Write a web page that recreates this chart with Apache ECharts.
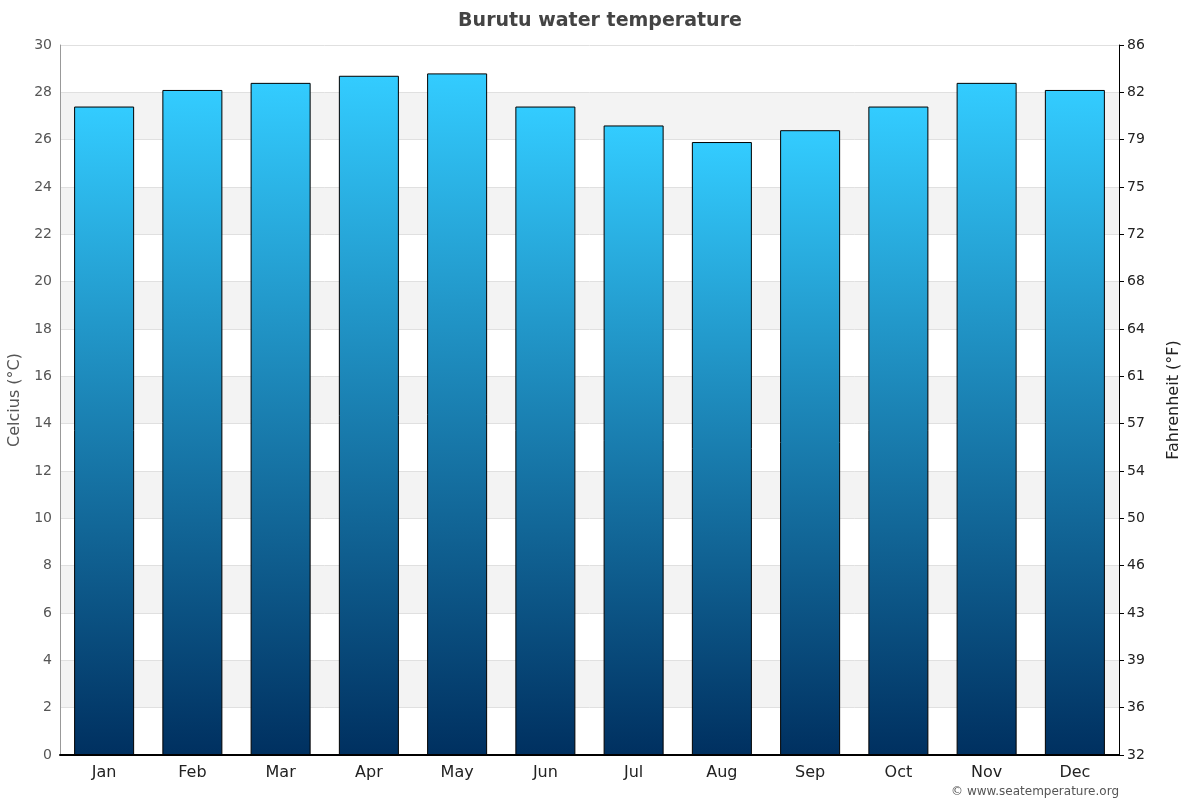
<!DOCTYPE html>
<html><head><meta charset="utf-8">
<script src="https://cdn.jsdelivr.net/npm/echarts@6/dist/echarts.min.js"></script>
<style>html,body{margin:0;padding:0;background:#fff}#c{width:1200px;height:800px}</style>
</head><body><div id="c"></div>
<script>
const months = ['Jan','Feb','Mar','Apr','May','Jun','Jul','Aug','Sep','Oct','Nov','Dec'];
const waterTempC = [27.4, 28.1, 28.4, 28.7, 28.8, 27.4, 26.6, 25.9, 26.4, 27.4, 28.4, 28.1];
const fahrenheitLabels = ['32','36','39','43','46','50','54','57','61','64','68','72','75','79','82','86'];
const titleText = 'Burutu water temperature';
const creditText = '© www.seatemperature.org';

const chart = echarts.init(document.getElementById('c'), null, {renderer:'canvas'});
const font = 'DejaVu Sans';
chart.setOption({
  animation:false,
  backgroundColor:'#fff',
  textStyle:{fontFamily:font},
  title:{text:titleText,left:'center',top:7,textStyle:{fontFamily:font,fontSize:19,fontWeight:'bold',color:'#444'}},
  graphic:[{type:'text',right:81,bottom:2,style:{text:creditText,fontFamily:font,fontSize:12,fill:'#555'}}],
  grid:{left:60,right:81,top:45,bottom:45,containLabel:false,outerBoundsMode:'none'},
  xAxis:{type:'category',data:months,
    axisLine:{lineStyle:{color:'#000',width:2}},
    axisTick:{show:false},
    axisLabel:{fontSize:16,color:'#222',margin:10}},
  yAxis:[
    {type:'value',min:0,max:30,interval:2,name:'Celcius (°C)',nameLocation:'middle',nameGap:35,
     nameTextStyle:{fontSize:16,color:'#555'},
     axisLine:{show:true,lineStyle:{color:'#999'}},
     axisTick:{show:false},
     axisLabel:{fontSize:14,color:'#555',margin:8},
     splitLine:{lineStyle:{color:'#e0e0e0'}},
     splitArea:{show:true,areaStyle:{color:['#ffffff','#f3f3f3']}}},
    {type:'value',min:0,max:30,interval:2,position:'right',name:'Fahrenheit (°F)',nameLocation:'middle',nameGap:47,
     nameTextStyle:{fontSize:16,color:'#222'},
     axisLine:{show:true,lineStyle:{color:'#000'}},
     axisTick:{show:true,length:5,lineStyle:{color:'#000'}},
     axisLabel:{fontSize:14,color:'#222',margin:8,formatter:(v,i)=>fahrenheitLabels[Math.round(v/2)]},
     splitLine:{show:false}}
  ],
  series:[{type:'bar',data:waterTempC,barWidth:'68%',
    itemStyle:{borderColor:'#000',borderWidth:1,
      color:new echarts.graphic.LinearGradient(0,0,0,1,[{offset:0,color:'#33ccff'},{offset:1,color:'#003060'}])}}]
});
</script></body></html>
